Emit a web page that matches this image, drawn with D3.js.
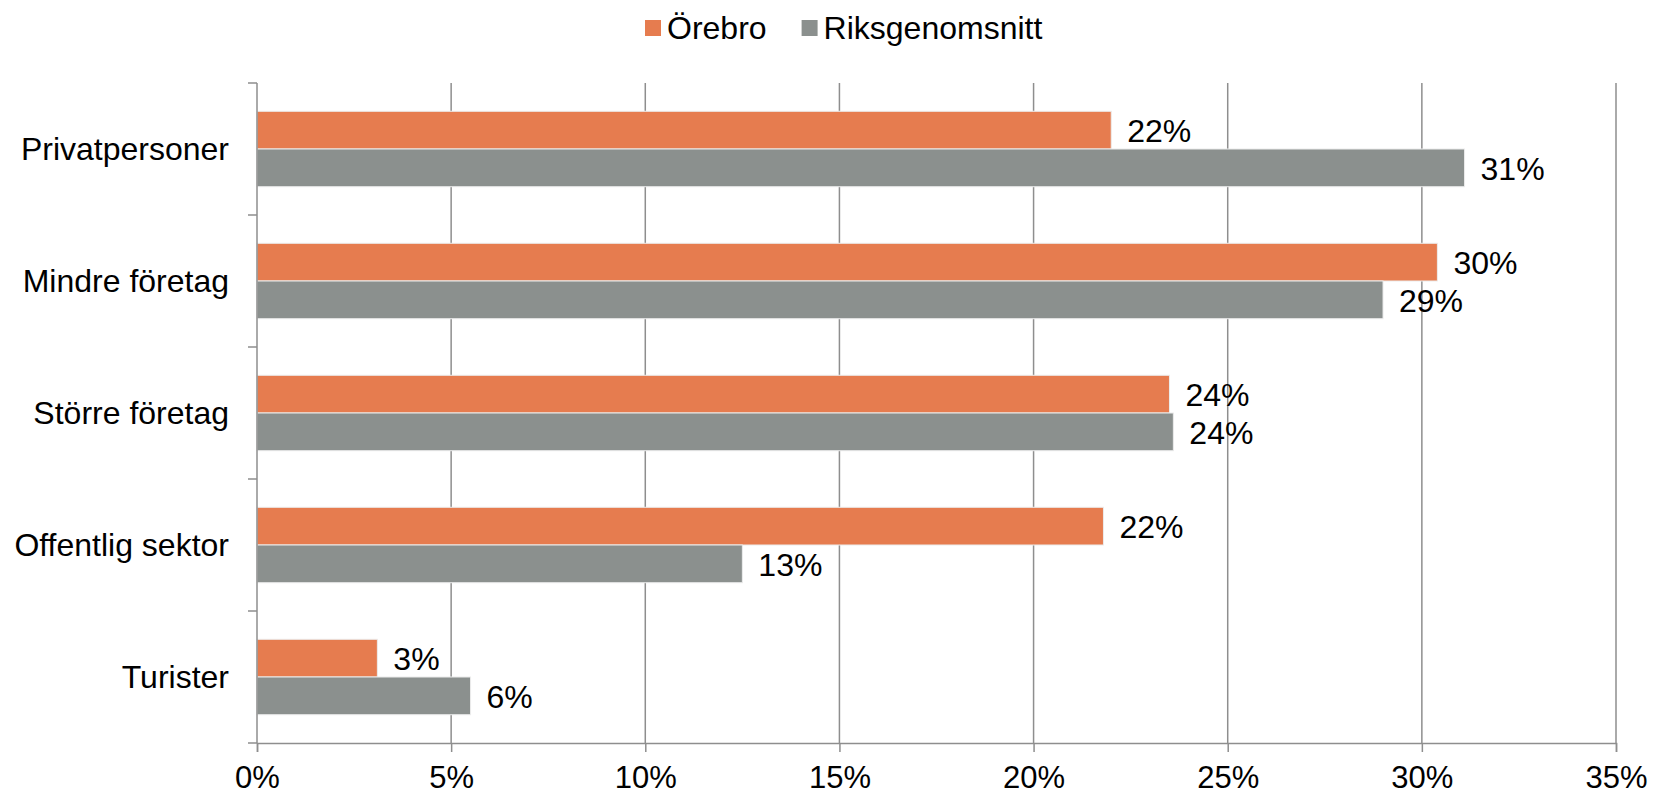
<!DOCTYPE html>
<html>
<head>
<meta charset="utf-8">
<script src="https://cdn.jsdelivr.net/npm/d3@7"></script>
<style>
body { margin: 0; background: #fff; }
text { font-family: "Liberation Sans", Arial, sans-serif; fill: #000; }
</style>
</head>
<body>
<svg class="graph" width="1666" height="795"></svg>
<script>
// data
var categories = ["Privatpersoner", "Mindre företag", "Större företag", "Offentlig sektor", "Turister"];
var seriesNames = ["Örebro", "Riksgenomsnitt"];
var orebro = [0.220, 0.304, 0.235, 0.218, 0.031];
var riks = [0.311, 0.290, 0.236, 0.125, 0.055];
var tickValues = [0, 0.05, 0.10, 0.15, 0.20, 0.25, 0.30, 0.35];
var colors = ["#e67c4f", "#8b908e"];

var svg = d3.select('.graph');
var W = 1666, H = 795;
var m = {left: 257, right: 50, top: 83, bottom: 52};
var fs = 32;

var x = d3.scaleLinear().domain([0, 0.35]).range([m.left, W - m.right]);
var y = d3.scaleBand().domain(categories).range([m.top, H - m.bottom]).paddingInner(0).paddingOuter(0);
// gap width 150% like the office chart
var y2 = d3.scaleBand().domain(seriesNames).range([0, y.bandwidth()]).paddingOuter(0.75).paddingInner(0);

var rows = categories.map(function(c, i){ return {cat: c, vals: [orebro[i], riks[i]]}; });

// grid lines
svg.append('g').selectAll('line').data(tickValues.slice(1)).enter().append('line')
  .attr('x1', function(d){ return x(d); }).attr('x2', function(d){ return x(d); })
  .attr('y1', m.top).attr('y2', H - m.bottom)
  .attr('stroke', '#8e8e8e').attr('stroke-width', 1.5);

// bars
var grp = svg.append('g').selectAll('g').data(rows).enter().append('g')
  .attr('transform', function(d){ return 'translate(0,' + y(d.cat) + ')'; });

grp.selectAll('rect').data(function(d){ return d.vals.map(function(v, j){ return {v: v, s: seriesNames[j], j: j}; }); })
  .enter().append('rect')
  .attr('x', x(0))
  .attr('y', function(d){ return y2(d.s); })
  .attr('width', function(d){ return x(d.v) - x(0); })
  .attr('height', y2.bandwidth())
  .attr('fill', function(d){ return colors[d.j]; })
  .attr('stroke', '#ececec').attr('stroke-width', 1);

grp.selectAll('text.lbl').data(function(d){ return d.vals.map(function(v, j){ return {v: v, s: seriesNames[j]}; }); })
  .enter().append('text').attr('class', 'lbl')
  .attr('x', function(d){ return x(d.v) + 16; })
  .attr('y', function(d){ return y2(d.s) + y2.bandwidth() / 2 + 12; })
  .style('font-size', fs + 'px')
  .text(function(d){ return Math.round(d.v * 100) + '%'; });

// y axis
var yAxis = svg.append('g');
yAxis.append('line').attr('x1', m.left).attr('x2', m.left).attr('y1', m.top).attr('y2', H - m.bottom)
  .attr('stroke', '#8e8e8e').attr('stroke-width', 1.5);
var bounds = categories.map(function(c){ return y(c); }).concat([y.range()[1]]);
yAxis.selectAll('line.tk').data(bounds).enter().append('line').attr('class', 'tk')
  .attr('x1', m.left - 9).attr('x2', m.left)
  .attr('y1', function(d){ return d; }).attr('y2', function(d){ return d; })
  .attr('stroke', '#8e8e8e').attr('stroke-width', 1.5);
yAxis.selectAll('text').data(categories).enter().append('text')
  .attr('x', m.left - 28)
  .attr('y', function(d){ return y(d) + y.bandwidth() / 2 + 11; })
  .attr('text-anchor', 'end')
  .style('font-size', fs + 'px')
  .text(function(d){ return d; });

// x axis
var xAxis = svg.append('g').attr('transform', 'translate(0,' + (H - m.bottom) + ')')
  .call(d3.axisBottom(x).tickValues(tickValues).tickSize(9).tickPadding(14).tickFormat(d3.format('.0%')));
xAxis.select('.domain').attr('stroke', '#8e8e8e').attr('stroke-width', 1.5);
xAxis.selectAll('.tick line').attr('stroke', '#8e8e8e').attr('stroke-width', 1.5);
xAxis.selectAll('.tick text').style('font-size', '31px').attr('fill', '#000')
  .style('font-family', '"Liberation Sans", Arial, sans-serif');

// legend
var leg = svg.append('g');
var lx = 645;
seriesNames.forEach(function(s, i){
  var it = leg.append('g').attr('transform', 'translate(' + lx + ',0)');
  it.append('rect').attr('x', 0).attr('y', 20).attr('width', 16).attr('height', 16).attr('fill', colors[i]);
  var t = it.append('text').attr('x', 22).attr('y', 39).style('font-size', fs + 'px').text(s);
  lx += 22 + t.node().getComputedTextLength() + 35;
});
</script>
</body>
</html>
